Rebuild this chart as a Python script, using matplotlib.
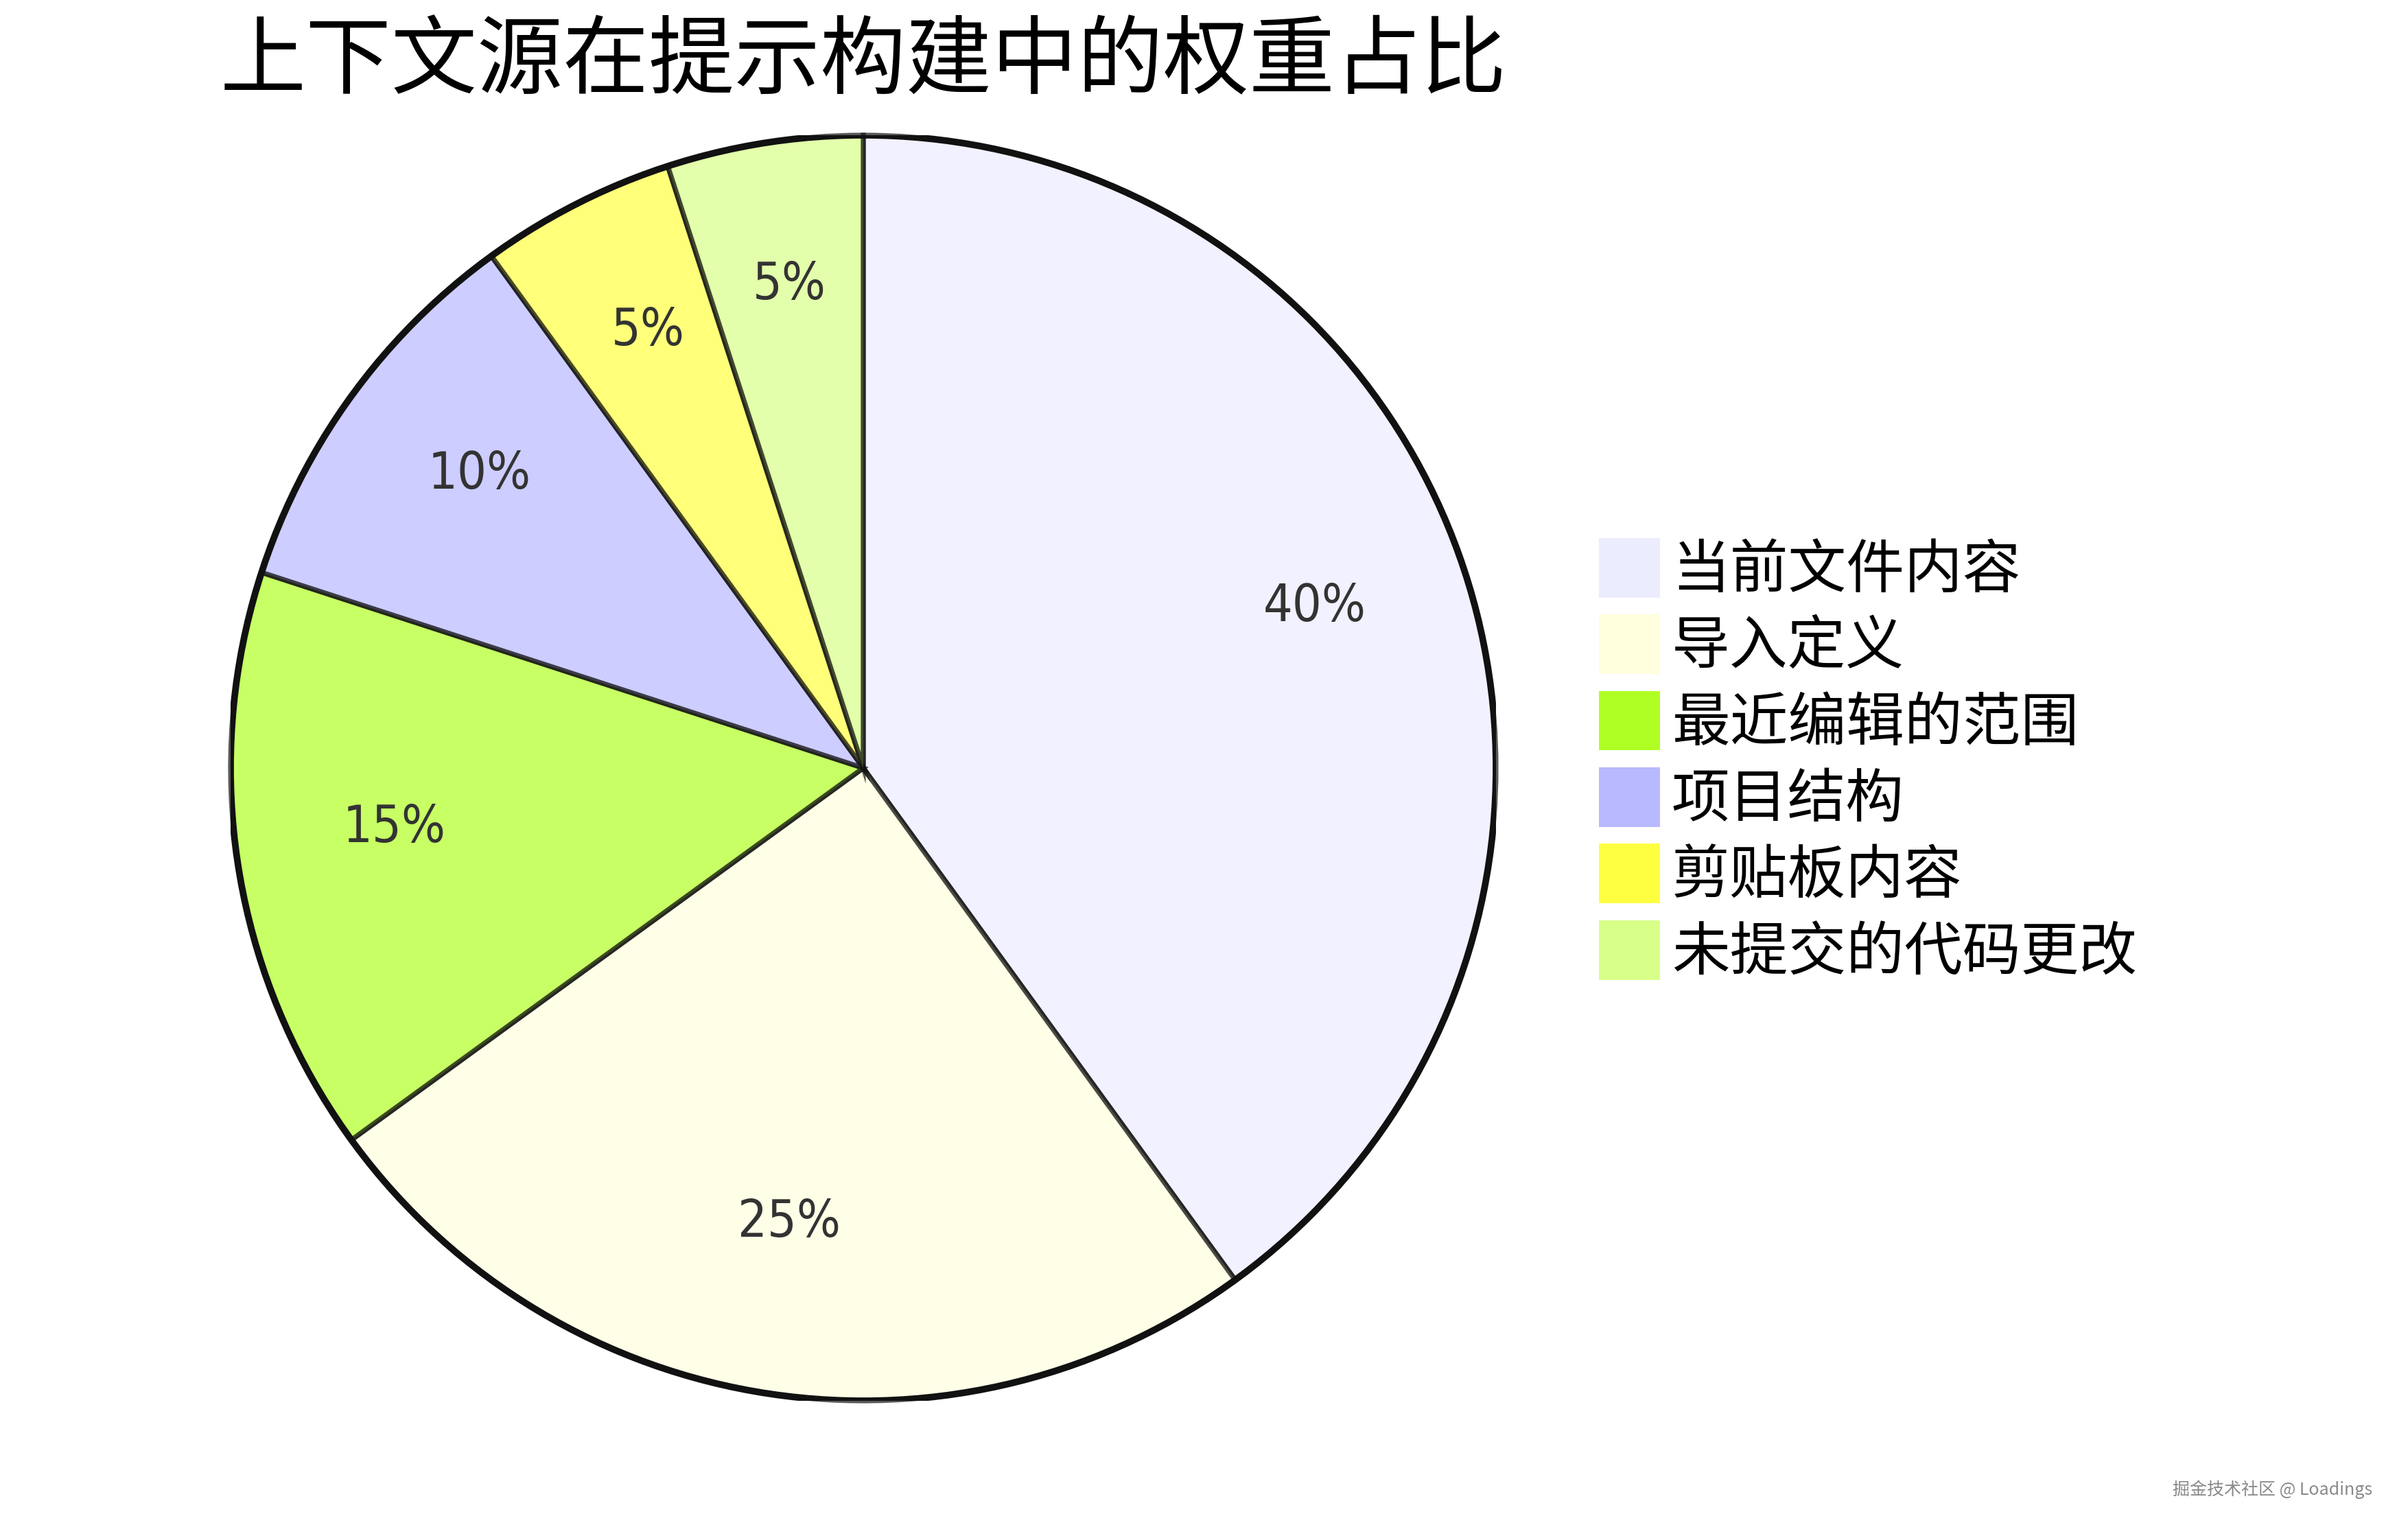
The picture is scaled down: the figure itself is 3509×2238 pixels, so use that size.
import matplotlib
matplotlib.use("Agg")
import matplotlib.pyplot as plt
import matplotlib.transforms as mtransforms
from matplotlib.patches import Patch, Circle

plt.rcParams['font.family'] = ['Noto Sans CJK SC', 'DejaVu Sans']

# data
labels = ["当前文件内容", "导入定义", "最近编辑的范围", "项目结构", "剪贴板内容", "未提交的代码更改"]
values = [40, 25, 15, 10, 5, 5]
colors = ["#ECECFF", "#FFFFDE", "#B0FF24", "#B9B9FF", "#FFFF42", "#D8FF88"]
title = "上下文源在提示构建中的权重占比"

W, H = 3509, 2238
fig = plt.figure(figsize=(W / 100, H / 100), dpi=100)

cx, cy, r = 1258, 1119, 922
ax = fig.add_axes([(cx - r) / W, (H - cy - r) / H, 2 * r / W, 2 * r / H])

wedges, texts, autotexts = ax.pie(
    values, colors=colors, startangle=90, counterclock=False,
    autopct=lambda p: "%d%%" % round(p), pctdistance=0.75,
    wedgeprops=dict(edgecolor="#111111", linewidth=5.2, alpha=0.7),
    textprops=dict(color="#333333", fontsize=54, fontstretch="condensed",
                   family=['DejaVu Sans']),
)
for w in wedges:
    w.set_edgecolor((0.07, 0.07, 0.07, 1.0))
# labels sit a little higher than the arc centroid
shift = mtransforms.offset_copy(ax.transData, fig=fig, x=0, y=15, units="points")
for t in autotexts:
    t.set_transform(shift)

ax.add_patch(Circle((0, 0), 1.0, fill=False, edgecolor="#111111", linewidth=7, zorder=5))
ax.set_xlim(-1, 1)
ax.set_ylim(-1, 1)
ax.set_aspect("equal")
ax.axis("off")

fig.text(cx / W, 1 - 92 / H, title, ha="center", va="center", fontsize=90, color="black")

handles = [Patch(facecolor=c, edgecolor="none") for c in colors]
fig.legend(handles, labels, loc="center left", bbox_to_anchor=(2330 / W, 0.505),
           frameon=False, fontsize=61, handlelength=1.05, handleheight=1.2,
           handletextpad=0.2, labelspacing=0.24, borderpad=0, borderaxespad=0)

fig.text(3457 / W, 1 - 2170 / H, "掘金技术社区 @ Loadings", ha="right", va="center",
         fontsize=18, color="#8a8a8a")

fig.savefig("out.png", dpi=100)
